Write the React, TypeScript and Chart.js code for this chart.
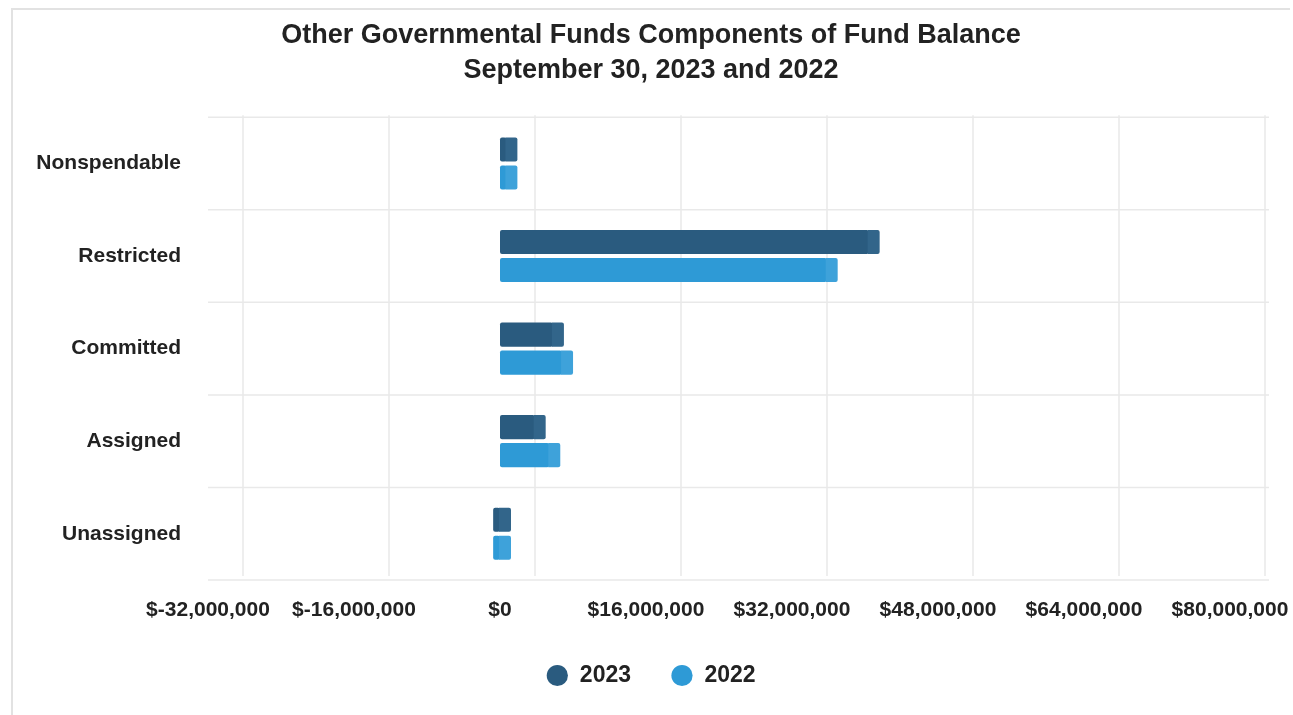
import React, { useEffect, useRef } from "react";
import { Chart, registerables } from "chart.js";

Chart.register(...registerables);

const TITLE_LINES = [
  "Other Governmental Funds Components of Fund Balance",
  "September 30, 2023 and 2022",
];
const CATEGORIES = ["Nonspendable", "Restricted", "Committed", "Assigned", "Unassigned"];
const LEGEND_LABELS = ["2023", "2022"];
const SERIES_2023 = [700000, 40400000, 5800000, 3800000, -750000];
const SERIES_2022 = [700000, 35800000, 6800000, 5400000, -750000];
const X_TICKS = [-32000000, -16000000, 0, 16000000, 32000000, 48000000, 64000000, 80000000];

const COLOR_2023 = "#2a5b7f";
const COLOR_2022 = "#2e9ad6";
const CAP_2023 = "#32658a";
const CAP_2022 = "#3ea2da";
const FONT = "'Liberation Sans', Arial, Helvetica, sans-serif";
const TEXT = "#222222";

const fmtMoney = (v: number) => "$" + Number(v).toLocaleString("en-US");

const backWall = {
  id: "backWall",
  beforeDatasetsDraw(chart: any) {
    const { ctx, chartArea, scales } = chart;
    const xs = scales.x;
    const ys = scales.y;
    const depth = 35;
    ctx.save();
    ctx.strokeStyle = "#e9e9e9";
    ctx.lineWidth = 1.5;
    xs.ticks.forEach((t: any) => {
      const px = xs.getPixelForValue(t.value) + depth;
      ctx.beginPath();
      ctx.moveTo(px, chartArea.top - 2);
      ctx.lineTo(px, chartArea.bottom - 4);
      ctx.stroke();
    });
    const n = CATEGORIES.length;
    const right = xs.getPixelForValue(X_TICKS[X_TICKS.length - 1]) + depth + 4;
    for (let i = 0; i <= n; i++) {
      const py = ys.top + (i * (ys.bottom - ys.top)) / n;
      ctx.beginPath();
      ctx.moveTo(chartArea.left, py);
      ctx.lineTo(right, py);
      ctx.stroke();
    }
    ctx.restore();
  },
};

const depthCaps = {
  id: "depthCaps",
  afterDatasetsDraw(chart: any) {
    const { ctx } = chart;
    const cap = 11;
    const caps = [CAP_2023, CAP_2022];
    ctx.save();
    chart.data.datasets.forEach((_ds: any, di: number) => {
      const meta = chart.getDatasetMeta(di);
      meta.data.forEach((el: any) => {
        const p = el.getProps(["x", "base", "y", "height"], true);
        const r = Math.max(p.x, p.base);
        ctx.fillStyle = caps[di];
        ctx.beginPath();
        if ((ctx as any).roundRect) {
          (ctx as any).roundRect(r - 1, p.y - p.height / 2, cap + 1, p.height, [0, 2, 2, 0]);
        } else {
          ctx.rect(r - 1, p.y - p.height / 2, cap + 1, p.height);
        }
        ctx.fill();
      });
    });
    ctx.restore();
  },
};

export default function App() {
  const canvasRef = useRef<HTMLCanvasElement | null>(null);

  useEffect(() => {
    if (!canvasRef.current) return;
    const chart = new Chart(canvasRef.current, {
      type: "bar",
      data: {
        labels: CATEGORIES,
        datasets: [
          {
            label: LEGEND_LABELS[0],
            data: SERIES_2023,
            backgroundColor: COLOR_2023,
            borderRadius: 2,
            borderSkipped: false,
            categoryPercentage: 0.605,
            barPercentage: 0.86,
          },
          {
            label: LEGEND_LABELS[1],
            data: SERIES_2022,
            backgroundColor: COLOR_2022,
            borderRadius: 2,
            borderSkipped: false,
            categoryPercentage: 0.605,
            barPercentage: 0.86,
          },
        ],
      },
      plugins: [backWall, depthCaps],
      options: {
        indexAxis: "y",
        animation: false,
        responsive: true,
        maintainAspectRatio: false,
        layout: { padding: { left: 30, right: 21, top: 0, bottom: 18 } },
        plugins: {
          title: {
            display: true,
            text: TITLE_LINES,
            color: TEXT,
            font: { family: FONT, size: 27, weight: "bold", lineHeight: 1.3 },
            padding: { top: 18, bottom: 29 },
          },
          legend: {
            display: true,
            position: "bottom",
            labels: {
              usePointStyle: true,
              pointStyle: "circle",
              boxWidth: 22,
              boxHeight: 15,
              padding: 40,
              color: TEXT,
              font: { family: FONT, size: 23, weight: "bold" },
            },
          },
          tooltip: { enabled: false },
        },
        scales: {
          x: {
            type: "linear",
            min: X_TICKS[0],
            max: X_TICKS[X_TICKS.length - 1],
            afterBuildTicks: (scale: any) => {
              scale.ticks = X_TICKS.map((v) => ({ value: v }));
            },
            afterFit: (scale: any) => {
              scale.height = 44;
              scale.paddingLeft = 0;
              scale.paddingRight = 63;
            },
            grid: { display: false, drawTicks: false },
            border: { display: false },
            ticks: {
              padding: 18,
              maxRotation: 0,
              autoSkip: false,
              color: TEXT,
              font: { family: FONT, size: 21, weight: "bold" },
              callback: (v: any) => fmtMoney(Number(v)),
            },
          },
          y: {
            afterFit: (scale: any) => {
              scale.width = 178;
            },
            grid: { display: false, drawTicks: false },
            border: { display: false },
            ticks: {
              padding: 27,
              color: TEXT,
              font: { family: FONT, size: 21, weight: "bold" },
            },
          },
        },
      },
    });
    return () => chart.destroy();
  }, []);

  return (
    <div
      style={{
        position: "fixed",
        left: 0,
        top: 0,
        width: 1293,
        height: 715,
        background: "#ffffff",
      }}
    >
      <div
        style={{
          position: "absolute",
          left: 11,
          top: 8,
          width: 1279,
          height: 720,
          borderLeft: "2px solid #e2e2e2",
          borderTop: "2px solid #e2e2e2",
          boxSizing: "border-box",
        }}
      />
      <canvas ref={canvasRef} style={{ position: "absolute", left: 0, top: 0 }} />
    </div>
  );
}
